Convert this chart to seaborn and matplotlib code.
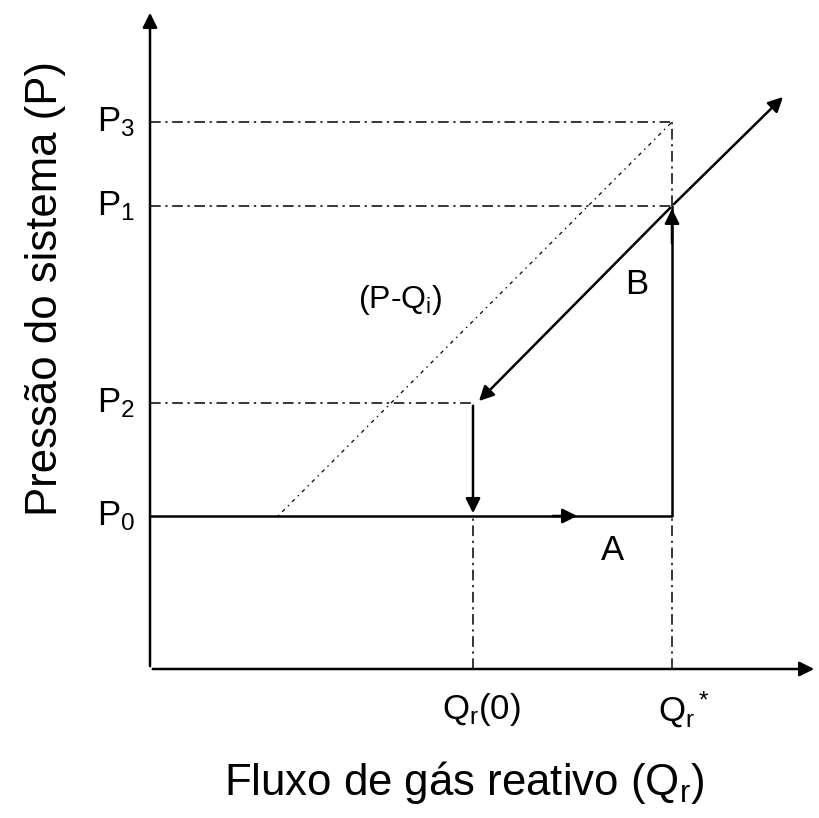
"""
Hysteresis schematic: system pressure vs reactive gas flow.
"""

import matplotlib.pyplot as plt
import seaborn as sns

sns.set_style('white')
plt.rcParams['font.family'] = ['Liberation Sans', 'DejaVu Sans']
plt.rcParams['text.color'] = 'black'
plt.rcParams['mathtext.fontset'] = 'custom'
plt.rcParams['mathtext.rm'] = 'Liberation Sans'
plt.rcParams['mathtext.it'] = 'Liberation Sans'

# characteristic flows (x) and pressures (y), arbitrary units
Q_I = 1.28      # where (P-Qi) line leaves P0
Q_R0 = 3.23     # Qr(0)
Q_RSTAR = 5.22  # Qr*
Q_END = 6.35    # end of branch B arrow
P0 = 1.53
P2 = 2.66
P1 = 4.63
P3 = 5.47
P_END = 5.74

p_levels = [P0, P2, P1, P3]
p_labels = ['P$_0$', 'P$_2$', 'P$_1$', 'P$_3$']
q_ticks = [Q_R0, Q_RSTAR]
q_labels = ['Q$_r$(0)', 'Q$_r$$^*$']

path_a_x = [0.0, Q_RSTAR, Q_RSTAR]
path_a_y = [P0, P0, P1]

fig = plt.figure(figsize=(8.19, 8.18), dpi=100)
ax = fig.add_axes([0, 0, 1, 1])
ax.set_xlim(-1.5, 6.69)
ax.set_ylim(-1.49, 6.69)
ax.axis('off')

# axes with arrowheads
ax.annotate('', xy=(0, 6.59), xytext=(0, 0),
            arrowprops=dict(arrowstyle='-|>', color='black', lw=1.8, mutation_scale=22))
ax.annotate('', xy=(6.67, 0), xytext=(0, 0),
            arrowprops=dict(arrowstyle='-|>', color='black', lw=1.8, mutation_scale=22))

dash_dot = dict(color='black', lw=1.1, dashes=(7, 3, 1.5, 3))
# guides
ax.plot([0, Q_RSTAR], [P3, P3], **dash_dot)
ax.plot([0, Q_RSTAR], [P1, P1], **dash_dot)
ax.plot([0, Q_R0], [P2, P2], **dash_dot)
ax.plot([Q_RSTAR, Q_RSTAR], [P1, P3], **dash_dot)
ax.plot([Q_RSTAR, Q_RSTAR], [0, P0], **dash_dot)
ax.plot([Q_R0, Q_R0], [0, P0], **dash_dot)
# (P-Qi) line
ax.plot([Q_I, Q_RSTAR], [P0, P3], color='black', lw=0.9, dashes=(1.2, 3.5, 3, 3.5))

# branch A (lower path)
sns.lineplot(x=path_a_x, y=path_a_y, sort=False, estimator=None,
             color='black', lw=1.8, ax=ax)
head = dict(arrowstyle='-|>', color='black', lw=1.8, mutation_scale=22)
ax.annotate('', xy=(4.3, P0), xytext=(4.0, P0), arrowprops=head)
ax.annotate('', xy=(Q_RSTAR, P1), xytext=(Q_RSTAR, P1 - 0.4), arrowprops=head)

# branch B (upper path) up and back down
ax.annotate('', xy=(Q_END, P_END), xytext=(Q_RSTAR, P1), arrowprops=head)
ax.annotate('', xy=(Q_R0 + 0.04, P2), xytext=(Q_RSTAR, P1), arrowprops=head)
ax.annotate('', xy=(Q_R0, P0), xytext=(Q_R0, P2), arrowprops=head)

# labels
for p, lab in zip(p_levels, p_labels):
    ax.text(-0.15, p, lab, ha='right', va='center', fontsize=25)
for q, lab, dx in zip(q_ticks, q_labels, [0.08, 0.12]):
    ax.text(q + dx, -0.41, lab, ha='center', va='center', fontsize=25)
ax.text(4.63, 1.19, 'A', fontsize=25, ha='center', va='center')
ax.text(4.87, 3.84, 'B', fontsize=25, ha='center', va='center')
ax.text(2.5, 3.69, '(P-Q$_i$)', fontsize=23, ha='center', va='center')

ax.text(-1.04, 3.80, 'Pressão do sistema (P)', rotation=90, fontsize=31.5,
        ha='center', va='center')
ax.text(3.14, -1.13, 'Fluxo de gás reativo (Q$_r$)', fontsize=31.5,
        ha='center', va='center')

plt.savefig('out.png', dpi=100)
plt.close()
